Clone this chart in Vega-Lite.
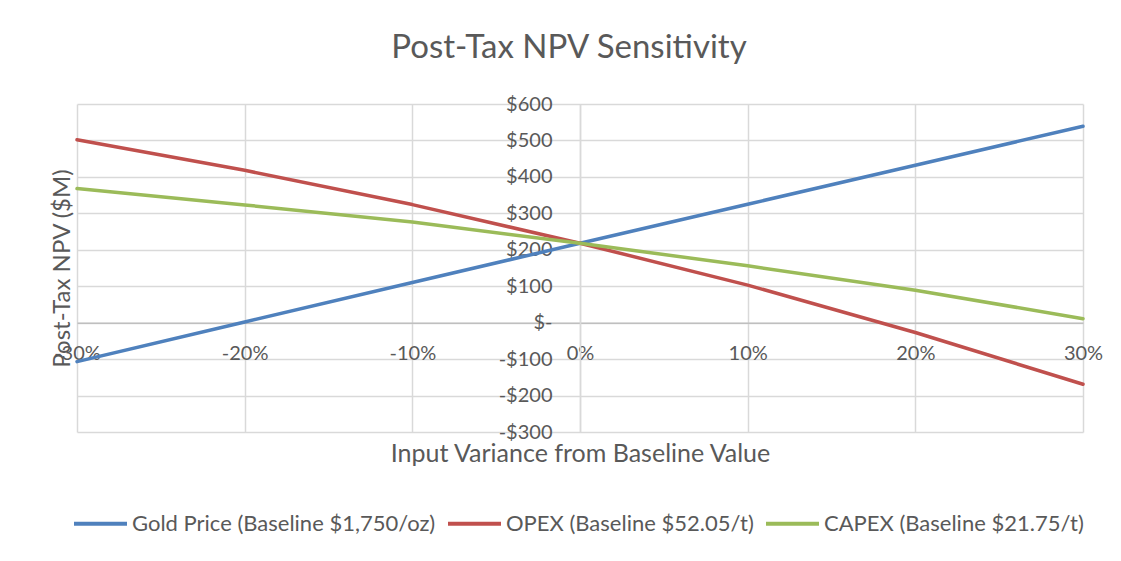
{
  "$schema": "https://vega.github.io/schema/vega-lite/v6.json",
  "width": 1006,
  "height": 328,
  "autosize": {"type": "none"},
  "padding": {"left": 77, "top": 104, "right": 38, "bottom": 129},
  "background": "white",
  "title": {
    "text": "Post-Tax NPV Sensitivity",
    "font": "Lato",
    "fontSize": 33,
    "fontWeight": "normal",
    "color": "#595959",
    "anchor": "middle",
    "frame": "group",
    "dx": -11,
    "offset": 29
  },
  "data": {
    "values": [
      {"variance": -0.3, "series": "Gold Price (Baseline $1,750/oz)", "npv": -107},
      {"variance": -0.2, "series": "Gold Price (Baseline $1,750/oz)", "npv": 2},
      {"variance": -0.1, "series": "Gold Price (Baseline $1,750/oz)", "npv": 110},
      {"variance": 0.0, "series": "Gold Price (Baseline $1,750/oz)", "npv": 218},
      {"variance": 0.1, "series": "Gold Price (Baseline $1,750/oz)", "npv": 325},
      {"variance": 0.2, "series": "Gold Price (Baseline $1,750/oz)", "npv": 432},
      {"variance": 0.3, "series": "Gold Price (Baseline $1,750/oz)", "npv": 539},
      {"variance": -0.3, "series": "OPEX (Baseline $52.05/t)", "npv": 502},
      {"variance": -0.2, "series": "OPEX (Baseline $52.05/t)", "npv": 418},
      {"variance": -0.1, "series": "OPEX (Baseline $52.05/t)", "npv": 324},
      {"variance": 0.0, "series": "OPEX (Baseline $52.05/t)", "npv": 218},
      {"variance": 0.1, "series": "OPEX (Baseline $52.05/t)", "npv": 103},
      {"variance": 0.2, "series": "OPEX (Baseline $52.05/t)", "npv": -27},
      {"variance": 0.3, "series": "OPEX (Baseline $52.05/t)", "npv": -169},
      {"variance": -0.3, "series": "CAPEX (Baseline $21.75/t)", "npv": 368},
      {"variance": -0.2, "series": "CAPEX (Baseline $21.75/t)", "npv": 323},
      {"variance": -0.1, "series": "CAPEX (Baseline $21.75/t)", "npv": 276},
      {"variance": 0.0, "series": "CAPEX (Baseline $21.75/t)", "npv": 218},
      {"variance": 0.1, "series": "CAPEX (Baseline $21.75/t)", "npv": 156},
      {"variance": 0.2, "series": "CAPEX (Baseline $21.75/t)", "npv": 89},
      {"variance": 0.3, "series": "CAPEX (Baseline $21.75/t)", "npv": 11}
    ]
  },
  "mark": {"type": "line", "strokeWidth": 3.5, "strokeCap": "round", "strokeJoin": "round"},
  "encoding": {
    "x": {
      "field": "variance",
      "type": "quantitative",
      "scale": {"domain": [-0.3, 0.3], "nice": false, "zero": false},
      "axis": {
        "orient": "bottom",
        "offset": -109.33,
        "values": [-0.3, -0.2, -0.1, 0, 0.1, 0.2, 0.3],
        "labelExpr": "(datum.value < -0.001 ? '-' : '') + format(abs(datum.value) * 100, '.0f') + '%'",
        "ticks": false,
        "labelPadding": 31,
        "labelBaseline": "middle",
        "labelFont": "Lato",
        "labelFontSize": 20,
        "labelColor": "#595959",
        "labelFlush": false,
        "labelOverlap": false,
        "labelBound": false,
        "domainColor": "#bfbfbf",
        "domainWidth": 1.5,
        "gridColor": "#d9d9d9",
        "gridWidth": 1.5,
        "title": "Input Variance from Baseline Value",
        "titleFont": "Lato",
        "titleFontSize": 25,
        "titleFontWeight": "normal",
        "titleColor": "#595959",
        "titleY": 130.5,
        "titleBaseline": "middle"
      }
    },
    "y": {
      "field": "npv",
      "type": "quantitative",
      "scale": {"domain": [-300, 600], "nice": false, "zero": false},
      "axis": {
        "orient": "left",
        "offset": -503,
        "values": [-300, -200, -100, 0, 100, 200, 300, 400, 500, 600],
        "labelExpr": "datum.value == 0 ? '$-\u00a0\u00a0\u00a0' : (datum.value < 0 ? '-$' + format(-datum.value, 'd') : '$' + format(datum.value, 'd'))",
        "ticks": false,
        "labelPadding": 28,
        "labelFont": "Lato",
        "labelFontSize": 20,
        "labelColor": "#595959",
        "labelFlush": false,
        "labelOverlap": false,
        "labelBound": false,
        "domainColor": "#d9d9d9",
        "domainWidth": 1.5,
        "gridColor": "#d9d9d9",
        "gridWidth": 1.5,
        "title": "Post-Tax NPV ($M)",
        "titleFont": "Lato",
        "titleFontSize": 24,
        "titleFontWeight": "normal",
        "titleColor": "#595959",
        "titleX": -518,
        "titleY": 164,
        "titleAngle": -90,
        "titleAlign": "center",
        "titleBaseline": "middle"
      }
    },
    "color": {
      "field": "series",
      "type": "nominal",
      "scale": {
        "domain": ["Gold Price (Baseline $1,750/oz)", "OPEX (Baseline $52.05/t)", "CAPEX (Baseline $21.75/t)"],
        "range": ["#4f81bd", "#c0504d", "#9bbb59"]
      },
      "legend": {
        "orient": "none",
        "direction": "horizontal",
        "legendX": -5,
        "legendY": 391,
        "title": null,
        "symbolType": "stroke",
        "symbolSize": 2809,
        "symbolStrokeWidth": 4,
        "labelFont": "Lato",
        "labelFontSize": 22,
        "labelColor": "#595959",
        "labelOffset": 3,
        "labelLimit": 400,
        "columnPadding": 4
      }
    }
  },
  "config": {
    "view": {"stroke": null}
  }
}
